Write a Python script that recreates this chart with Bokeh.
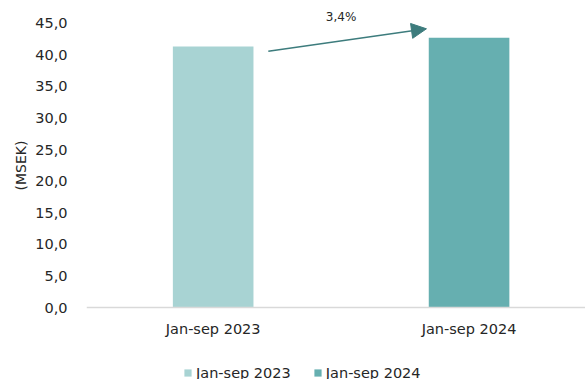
from bokeh.plotting import figure
from bokeh.models import (ColumnDataSource, Range1d, FixedTicker, CustomJSTickFormatter,
                          Legend, LegendItem, Arrow, NormalHead, Label, Span)
from bokeh.core.properties import value
from bokeh.embed import file_html
from bokeh.resources import INLINE

categories = ["Jan-sep 2023", "Jan-sep 2024"]
values = [41.3, 42.7]
colors = ["#A8D3D3", "#66AFB0"]
y_ticks = [0, 5, 10, 15, 20, 25, 30, 35, 40, 45]

FONT = "DejaVu Sans"
TXT = "#262626"
FS = "14.5px"

xs = list(range(len(categories)))
src = ColumnDataSource(dict(x=xs, top=values, color=colors, cat=categories))

# frame: x 86..585, y 0..379 ; value 0 at pixel row 307, 6.32 px per unit
p = figure(width=585, height=379, output_backend="svg", toolbar_location=None,
           x_range=Range1d(-0.495, 1.455), y_range=Range1d(-72 / 6.32, 307 / 6.32),
           min_border_left=86, min_border_right=0, min_border_top=0, min_border_bottom=0)
p.outline_line_color = None
p.grid.grid_line_color = None
p.xaxis.visible = False

r = p.vbar(x="x", top="top", width=0.315, color="color", source=src, line_color=None)

# category axis: baseline + labels
p.add_layout(Span(location=0, dimension="width", line_color="#D9D9D9", line_width=1.5))
lab_src = ColumnDataSource(dict(x=xs, y=[0] * len(xs), text=categories))
p.text(x="x", y="y", text="text", source=lab_src, y_offset=13,
       text_align="center", text_baseline="top", text_font=value(FONT),
       text_font_size=FS, text_color=TXT)

# y axis
p.yaxis.ticker = FixedTicker(ticks=y_ticks)
p.yaxis.formatter = CustomJSTickFormatter(code="return tick.toFixed(1).replace('.', ',');")
p.yaxis.axis_line_color = None
p.yaxis.major_tick_line_color = None
p.yaxis.minor_tick_line_color = None
p.yaxis.major_label_standoff = 13
p.yaxis.major_label_text_font = FONT
p.yaxis.major_label_text_font_size = FS
p.yaxis.major_label_text_color = TXT
p.yaxis.axis_label = "\u00a0" * 11 + "(MSEK)"
p.yaxis.axis_label_text_font = FONT
p.yaxis.axis_label_text_font_size = "14px"
p.yaxis.axis_label_text_font_style = "normal"
p.yaxis.axis_label_text_color = TXT
p.yaxis.axis_label_standoff = 3

# growth arrow
half = 0.315 / 2
growth = (values[1] / values[0] - 1) * 100
arrow_color = "#3D7C7D"
p.add_layout(Arrow(x_start=xs[0] + half + 0.058, y_start=values[0] - 0.75,
                   x_end=xs[1] - half - 0.009, y_end=values[1] + 1.4,
                   line_color=arrow_color, line_width=1.5,
                   end=NormalHead(size=15, fill_color=arrow_color, line_color=arrow_color)))
p.add_layout(Label(x=(xs[0] + xs[1]) / 2, y=values[1] + 3.2, text=f"{growth:.1f}%".replace('.', ','),
                   text_font=FONT, text_font_size="12px", text_color=TXT,
                   text_align="center", text_baseline="middle"))

legend = Legend(items=[LegendItem(label=c, renderers=[r], index=i) for i, c in enumerate(categories)],
                orientation="horizontal", location=(97, -2),
                border_line_color=None, background_fill_alpha=0,
                glyph_width=9, glyph_height=9, label_text_font=FONT,
                label_text_font_size=FS, label_text_color=TXT,
                spacing=22, padding=0, margin=0, label_standoff=4, label_height=17)
p.add_layout(legend, "center")

open("out.html", "w").write(file_html(p, INLINE))
